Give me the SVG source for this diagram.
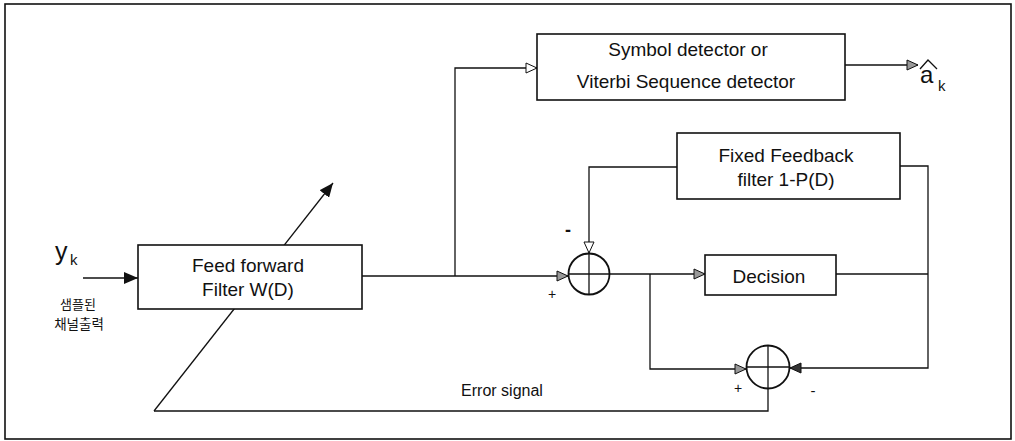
<svg xmlns="http://www.w3.org/2000/svg" width="1015" height="441" viewBox="0 0 1015 441">
<style>
.box{fill:#fff;stroke:#111;stroke-width:1.6}
.ln{fill:none;stroke:#111;stroke-width:1.3}
.t{font-family:"Liberation Sans",Arial,sans-serif;fill:#111}
.m{font-size:19px;text-anchor:middle}
.k{font-family:"Noto Sans CJK KR","Liberation Sans",sans-serif;fill:#111}
</style>
<defs>
<marker id="solid" markerUnits="userSpaceOnUse" markerWidth="16" markerHeight="12" refX="14" refY="6" orient="auto">
<path d="M0,0 L14,6 L0,12 Z" fill="#111"/>
</marker>
<marker id="hollow" markerUnits="userSpaceOnUse" markerWidth="14" markerHeight="12" refX="12" refY="6" orient="auto">
<path d="M1,1 L12,6 L1,11 Z" fill="#fff" stroke="#111" stroke-width="1"/>
</marker>
<marker id="gray" markerUnits="userSpaceOnUse" markerWidth="14" markerHeight="12" refX="12" refY="6" orient="auto">
<path d="M1,1 L12,6 L1,11 Z" fill="#999" stroke="#111" stroke-width="1"/>
</marker>
<marker id="blk" markerUnits="userSpaceOnUse" markerWidth="14" markerHeight="12" refX="12" refY="6" orient="auto">
<path d="M1,1 L12,6 L1,11 Z" fill="#333" stroke="#111" stroke-width="1"/>
</marker>
</defs>
<rect x="5" y="4" width="1006" height="435" fill="#fff" stroke="#111" stroke-width="1.6"/>
<g id="connectors">
<line class="ln" x1="154" y1="411" x2="333" y2="183" marker-end="url(#solid)"/>
<line class="ln" x1="83" y1="278" x2="138" y2="278" marker-end="url(#solid)"/>
<polyline class="ln" points="154,411 768,411 768,389"/>
<line class="ln" x1="362" y1="276" x2="568" y2="276" marker-end="url(#gray)"/>
<polyline class="ln" points="455,276 455,68 537,68" marker-end="url(#hollow)"/>
<line class="ln" x1="845" y1="65" x2="918" y2="65" marker-end="url(#gray)"/>
<polyline class="ln" points="677,167 589,167 589,253" marker-end="url(#hollow)"/>
<line class="ln" x1="609" y1="274" x2="705" y2="274" marker-end="url(#gray)"/>
<polyline class="ln" points="650,274 650,369 746,369" marker-end="url(#gray)"/>
<polyline class="ln" points="900,166 928,166 928,368 790,368" marker-end="url(#blk)"/>
<line class="ln" x1="836" y1="274" x2="928" y2="274"/>
</g>
<g id="ff">
<rect class="box" x="138" y="245" width="224" height="64"/>
<text class="t m" x="248" y="272">Feed forward</text>
<text class="t m" x="248" y="296">Filter W(D)</text>
</g>
<g id="input">
<text class="t" x="55" y="260" font-size="25">y</text>
<text class="t" x="70" y="265" font-size="15">k</text>
<text class="k" x="78" y="309" font-size="13" text-anchor="middle">샘플된</text>
<text class="k" x="79" y="329" font-size="13.5" text-anchor="middle">채널출력</text>
</g>
<g id="symdet">
<rect class="box" x="537" y="34" width="308" height="66"/>
<text class="t m" x="688" y="56">Symbol detector or</text>
<text class="t m" x="686" y="88">Viterbi Sequence detector</text>
</g>
<g id="out">
<text class="t" x="920" y="83" font-size="24">a</text>
<path d="M920,69 L928,60 L937,69" fill="none" stroke="#111" stroke-width="1.3"/>
<text class="t" x="938" y="91" font-size="15">k</text>
</g>
<g id="fixed">
<rect class="box" x="677" y="133" width="223" height="66"/>
<text class="t m" x="786" y="162">Fixed Feedback</text>
<text class="t m" x="786" y="186">filter 1-P(D)</text>
</g>
<g id="sum1">
<circle cx="589" cy="274" r="20.5" fill="#fff" stroke="#111" stroke-width="1.8"/>
<line class="ln" x1="568.5" y1="274" x2="609.5" y2="274"/>
<line class="ln" x1="589" y1="253.5" x2="589" y2="294.5"/>
<text class="t" x="568" y="236" font-size="18" font-weight="bold" text-anchor="middle">-</text>
<text class="t" x="552" y="299" font-size="14" text-anchor="middle">+</text>
</g>
<g id="decision">
<rect class="box" x="705" y="255" width="131" height="40"/>
<text class="t m" x="769" y="283">Decision</text>
</g>
<g id="sum2">
<circle cx="768" cy="367" r="21.5" fill="#fff" stroke="#111" stroke-width="1.8"/>
<line class="ln" x1="746.5" y1="367" x2="789.5" y2="367"/>
<line class="ln" x1="768" y1="345.5" x2="768" y2="388.5"/>
<text class="t" x="738" y="393" font-size="14" text-anchor="middle">+</text>
<text class="t" x="813" y="396" font-size="15" text-anchor="middle">-</text>
</g>
<g id="error">
<text class="t" x="502" y="396" font-size="16" text-anchor="middle">Error signal</text>
</g>
</svg>
